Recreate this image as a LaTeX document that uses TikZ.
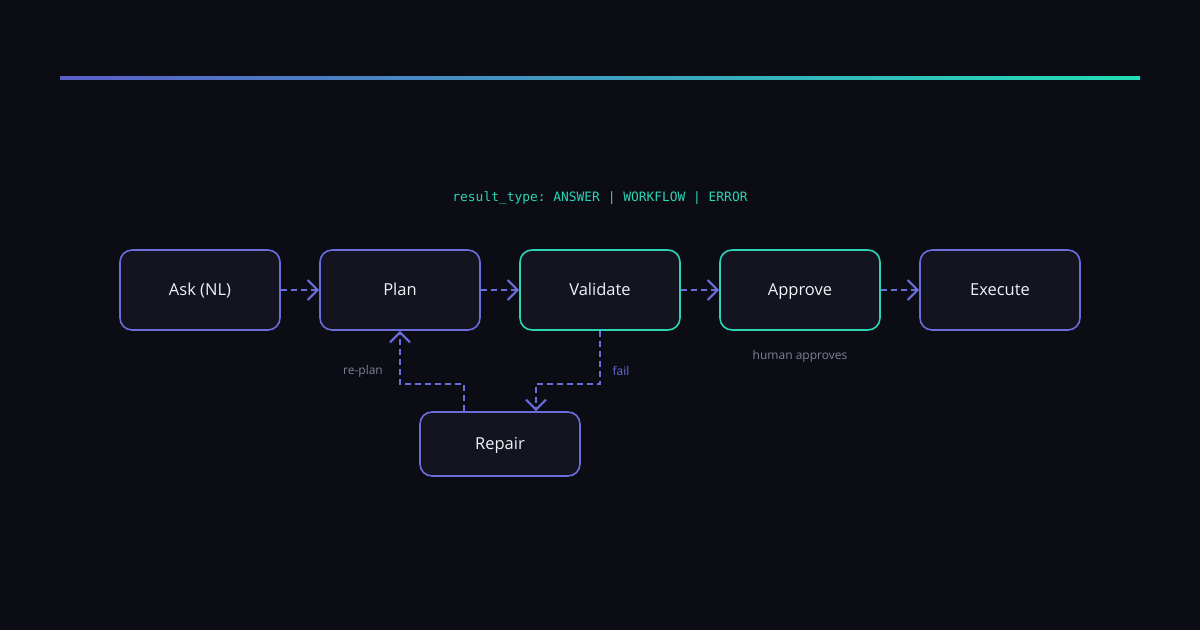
\documentclass[tikz,border=0pt]{standalone}
\usepackage{fontspec}
\setmainfont{Open Sans}
\newfontfamily\monof{DejaVu Sans Mono}
\usetikzlibrary{arrows.meta}
\definecolor{bg}{HTML}{0B0C14}
\definecolor{boxfill}{HTML}{131420}
\definecolor{indi}{HTML}{6A6EDB}
\definecolor{tealc}{HTML}{2BD4B4}
\definecolor{txt}{HTML}{F0F2F6}
\definecolor{mutedc}{HTML}{7E8496}
\definecolor{gradL}{HTML}{5A5FC8}
\definecolor{gradR}{HTML}{22DDB5}
\tikzset{
  stepbox/.style={draw=indi, line width=1.6pt, fill=boxfill, rounded corners=12pt,
    minimum width=160pt, minimum height=80pt, inner sep=0pt, text=txt,
    text height=11.5pt, text depth=0pt,
    font=\fontsize{16.5}{19}\selectfont},
  tealbox/.style={stepbox, draw=tealc},
  flow/.style={draw=indi, line width=2pt, dash pattern=on 6pt off 4pt,
    -{Straight Barb[length=10pt,width=20pt,line width=2.2pt]}},
  lbl/.style={font=\fontsize{12}{14}\selectfont, text=mutedc, inner sep=0pt},
}
\begin{document}
\frenchspacing
\begin{tikzpicture}[x=1pt,y=-1pt]
\fill[bg] (0,0) rectangle (1200,630);
\useasboundingbox (0,0) rectangle (1200,630);
\shade[left color=gradL, right color=gradR] (60,76.5) rectangle (1140,79.5);

\node[font=\monof\fontsize{12.9}{15}\selectfont, text=tealc] (rt) at (600,198) {result\_type: ANSWER | WORKFLOW | ERROR};

\node[stepbox] (ask) at (200,290) {Ask (NL)};
\node[stepbox] (plan) at (400,290) {Plan};
\node[tealbox] (val) at (600,290) {Validate};
\node[tealbox] (appr) at (800,290) {Approve};
\node[stepbox] (exec) at (1000,290) {Execute};
\node[stepbox, minimum height=64pt] (rep) at (500,444) {Repair};

\draw[flow] (ask) -- (plan);
\draw[flow] (plan) -- (val);
\draw[flow] (val) -- (appr);
\draw[flow] (appr) -- (exec);

\coordinate (c1) at (464,384);
\coordinate (c2) at (400,384);
\coordinate (c3) at (600,384);
\coordinate (c4) at (536,384);
\draw[flow] (rep.north -| c1) -- (c1) -- (c2) -- (plan.south);
\draw[flow] (val.south) -- (c3) -- (c4) -- (rep.north -| c4);

\node[lbl] (replan) at (363,371) {re-plan};
\node[lbl, text=indi] (fail) at (621,371) {fail};
\node[lbl] (human) at (800,356) {human approves};
\end{tikzpicture}
\end{document}
